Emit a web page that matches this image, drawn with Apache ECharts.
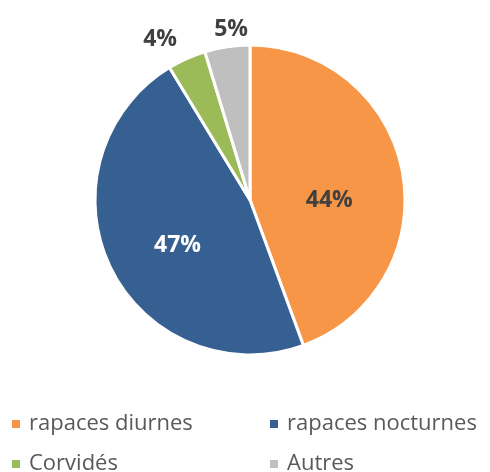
<!DOCTYPE html>
<html><head><meta charset="utf-8">
<script src="https://cdn.jsdelivr.net/npm/echarts@6/dist/echarts.min.js"></script>
<style>html,body{margin:0;padding:0;background:#fff}#c{width:490px;height:472px}</style>
</head><body><div id="c"></div>
<script>
const categories = ['rapaces diurnes', 'rapaces nocturnes', 'Corvidés', 'Autres'];
const values = [44.4, 46.9, 4.0, 4.7];
const colors = ['#F79646', '#376092', '#9BBB59', '#BFBFBF'];

const chart = echarts.init(document.getElementById('c'));
const font = '"Open Sans", "Noto Sans", sans-serif';
const labelCfg = [
  {position: 'inside', color: '#404040', offset: [0, 15]},
  {position: 'inside', color: '#ffffff', offset: [0, 10]},
  {position: 'inside', color: '#404040', offset: [-57, -87]},
  {position: 'inside', color: '#404040', offset: [-7, -91]}
];
const legendPos = [
  {left: 10, top: 413}, {left: 268, top: 413},
  {left: 10, top: 453}, {left: 268, top: 453}
];
chart.setOption({
  animation: false,
  color: colors,
  legend: categories.map((c, i) => ({
    data: [c], left: legendPos[i].left, top: legendPos[i].top,
    icon: 'rect', itemWidth: 10, itemHeight: 10, itemGap: 0,
    textStyle: {fontFamily: font, fontSize: 22, color: '#595959', padding: [0, 0, 0, 3]},
    padding: 0, selectedMode: false
  })),
  series: [{
    type: 'pie',
    center: [250, 200],
    radius: [0, 155],
    startAngle: 90,
    clockwise: true,
    itemStyle: {borderColor: '#ffffff', borderWidth: 3},
    labelLine: {show: false},
    label: {fontFamily: font, fontSize: 23, fontWeight: 'bold', formatter: '{d}%'},
    percentPrecision: 0,
    data: categories.map((c, i) => ({
      name: c, value: values[i],
      label: labelCfg[i]
    }))
  }]
});
</script></body></html>
